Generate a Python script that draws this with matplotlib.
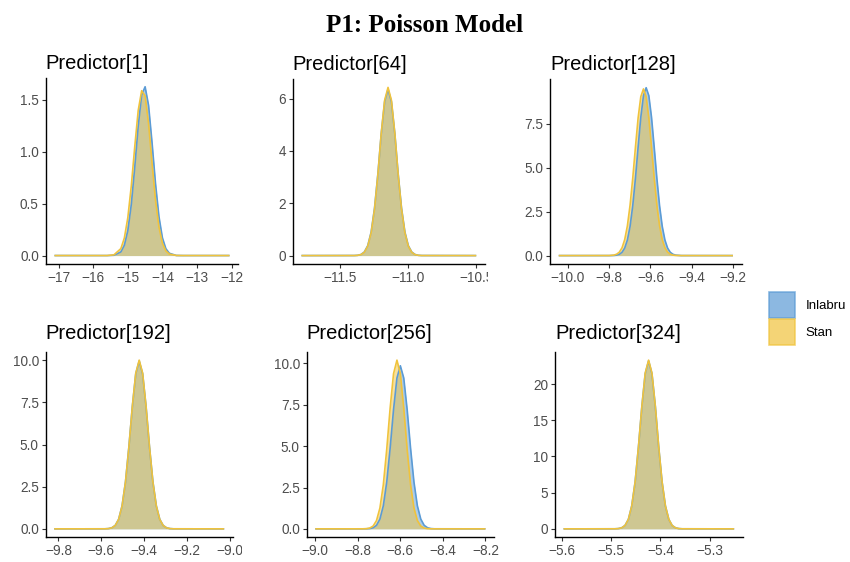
import matplotlib
matplotlib.use("Agg")
import matplotlib.pyplot as plt
from matplotlib.patches import Patch
from matplotlib.transforms import Bbox, TransformedBbox

# posterior densities of the linear predictor, Inlabru vs Stan
titles = ["Predictor[1]", "Predictor[64]", "Predictor[128]",
          "Predictor[192]", "Predictor[256]", "Predictor[324]"]

p1_x = [-17.12, -15.6, -15.4, -15.2, -15.1, -15.0, -14.9, -14.8, -14.7, -14.6, -14.5,
        -14.4, -14.3, -14.2, -14.1, -14.0, -13.9, -13.8, -13.6, -13.4, -12.06]
p1_inlabru = [0.0, 0.0, 0.003, 0.035, 0.099, 0.239, 0.489, 0.847, 1.243, 1.544, 1.623,
              1.444, 1.088, 0.694, 0.375, 0.171, 0.066, 0.022, 0.001, 0.0, 0.0]
p1_stan = [0.0, 0.0, 0.007, 0.067, 0.169, 0.364, 0.668, 1.045, 1.394, 1.585, 1.535,
           1.267, 0.891, 0.534, 0.273, 0.119, 0.044, 0.014, 0.001, 0.0, 0.0]

p2_x = [-11.784, -11.396, -11.371, -11.346, -11.322, -11.297, -11.272, -11.247, -11.222,
        -11.198, -11.173, -11.148, -11.123, -11.098, -11.074, -11.049, -11.024, -10.999,
        -10.974, -10.950, -10.925, -10.900, -10.50]
p2_inlabru = [0.0, 0.003, 0.011, 0.043, 0.137, 0.380, 0.900, 1.820, 3.146, 4.651, 5.882,
              6.360, 5.882, 4.651, 3.146, 1.820, 0.900, 0.380, 0.137, 0.043, 0.011, 0.003, 0.0]
p2_stan = [0.0, 0.002, 0.010, 0.038, 0.127, 0.361, 0.870, 1.788, 3.130, 4.669, 5.936,
           6.430, 5.936, 4.669, 3.130, 1.788, 0.870, 0.361, 0.127, 0.038, 0.010, 0.002, 0.0]

p3_x = [-10.045, -9.800, -9.777, -9.764, -9.751, -9.738, -9.725, -9.712, -9.699, -9.686,
        -9.673, -9.660, -9.647, -9.634, -9.621, -9.608, -9.595, -9.582, -9.569, -9.556,
        -9.543, -9.530, -9.517, -9.504, -9.491, -9.478, -9.450, -9.200]
p3_inlabru = [0.0, 0.001, 0.009, 0.027, 0.075, 0.187, 0.428, 0.887, 1.666, 2.842, 4.399,
              6.177, 7.874, 9.107, 9.560, 9.107, 7.874, 6.177, 4.399, 2.842, 1.666, 0.887,
              0.428, 0.187, 0.075, 0.027, 0.002, 0.0]
p3_stan = [0.0, 0.004, 0.029, 0.080, 0.197, 0.445, 0.912, 1.698, 2.873, 4.417, 6.172,
           7.839, 9.047, 9.490, 9.047, 7.839, 6.172, 4.417, 2.873, 1.698, 0.912, 0.445,
           0.197, 0.080, 0.029, 0.010, 0.001, 0.0]

p4_x = [-9.82, -9.583, -9.567, -9.551, -9.535, -9.519, -9.503, -9.487, -9.471, -9.455,
        -9.439, -9.423, -9.407, -9.391, -9.375, -9.359, -9.343, -9.327, -9.311, -9.295,
        -9.279, -9.263, -9.026]
p4_inlabru = [0.0, 0.003, 0.016, 0.062, 0.203, 0.568, 1.362, 2.788, 4.869, 7.248, 9.196,
              9.950, 9.196, 7.248, 4.869, 2.788, 1.362, 0.568, 0.203, 0.062, 0.016, 0.003, 0.0]
p4_stan = [0.0, 0.003, 0.015, 0.060, 0.198, 0.561, 1.353, 2.780, 4.868, 7.261, 9.231,
           10.000, 9.231, 7.261, 4.868, 2.780, 1.353, 0.561, 0.198, 0.060, 0.015, 0.003, 0.0]

p5_x = [-9.0, -8.776, -8.760, -8.744, -8.728, -8.712, -8.696, -8.680, -8.664, -8.648,
        -8.632, -8.616, -8.600, -8.584, -8.568, -8.552, -8.536, -8.520, -8.504, -8.488,
        -8.472, -8.456, -8.440, -8.2]
p5_inlabru = [0.0, 0.001, 0.004, 0.017, 0.066, 0.213, 0.590, 1.395, 2.821, 4.877, 7.211,
              9.119, 9.860, 9.119, 7.211, 4.877, 2.821, 1.395, 0.590, 0.213, 0.066, 0.017,
              0.004, 0.0]
p5_stan = [0.0, 0.002, 0.011, 0.048, 0.169, 0.502, 1.259, 2.673, 4.803, 7.298, 9.381,
           10.200, 9.381, 7.298, 4.803, 2.673, 1.259, 0.502, 0.169, 0.048, 0.011, 0.002,
           0.0, 0.0]

p6_x = [-5.597, -5.4925, -5.4857, -5.4788, -5.4720, -5.4651, -5.4583, -5.4514, -5.4446,
        -5.4377, -5.4309, -5.4240, -5.4172, -5.4103, -5.4035, -5.3966, -5.3898, -5.3829,
        -5.3761, -5.3692, -5.3624, -5.3555, -5.25]
p6_inlabru = [0.0, 0.009, 0.037, 0.142, 0.466, 1.313, 3.158, 6.473, 11.322, 16.878, 21.437,
              23.200, 21.437, 16.878, 11.322, 6.473, 3.158, 1.313, 0.466, 0.142, 0.037,
              0.009, 0.0]
p6_stan = [0.0, 0.008, 0.036, 0.139, 0.461, 1.307, 3.153, 6.477, 11.342, 16.918, 21.508,
           23.300, 21.508, 16.918, 11.342, 6.477, 3.153, 1.307, 0.461, 0.139, 0.036,
           0.008, 0.0]

xs = [p1_x, p2_x, p3_x, p4_x, p5_x, p6_x]
inlabru = [p1_inlabru, p2_inlabru, p3_inlabru, p4_inlabru, p5_inlabru, p6_inlabru]
stan = [p1_stan, p2_stan, p3_stan, p4_stan, p5_stan, p6_stan]

xticks = [[-17, -16, -15, -14, -13, -12],
          [-11.5, -11.0, -10.5],
          [-10.0, -9.8, -9.6, -9.4, -9.2],
          [-9.8, -9.6, -9.4, -9.2, -9.0],
          [-9.0, -8.8, -8.6, -8.4, -8.2],
          [-5.6, -5.5, -5.4, -5.3]]
yticks = [[0.0, 0.5, 1.0, 1.5],
          [0, 2, 4, 6],
          [0.0, 2.5, 5.0, 7.5],
          [0.0, 2.5, 5.0, 7.5, 10.0],
          [0.0, 2.5, 5.0, 7.5, 10.0],
          [0, 5, 10, 15, 20]]
xfmt = ["{:.0f}", "{:.1f}", "{:.1f}", "{:.1f}", "{:.1f}", "{:.1f}"]
yfmt = ["{:.1f}", "{:.0f}", "{:.1f}", "{:.1f}", "{:.1f}", "{:.0f}"]

col_inlabru = "#5B9BD5"
col_stan = "#F0C33C"
fill_alpha = 0.5

plt.rcParams["font.family"] = ["Liberation Sans", "DejaVu Sans"]

W, H = 850, 562
# panel boxes in pixels: left, right, top, bottom
boxes = [(45.7, 238.3, 78.3, 264), (292.7, 485, 79, 264), (550, 741.7, 79.3, 264),
         (45.7, 232.7, 351.7, 537.3), (306.7, 494, 351.7, 537.3), (555, 742.7, 351.7, 537.3)]
title_pad = [6.5, 6.5, 6.5, 8.8, 8.8, 8.8]
# right edge of the grid cell that clips the x tick labels
clip_right = {1: 488, 3: 241.7}

fig = plt.figure(figsize=(W / 100, H / 100), dpi=100)
fig.text(0.5, 1 - 32 / H, "P1: Poisson Model", ha="center", va="baseline",
         fontsize=18, fontweight="bold", family="Liberation Serif")

axes = []
for i in range(6):
    l, r, t, b = boxes[i]
    ax = fig.add_axes([l / W, 1 - b / H, (r - l) / W, (b - t) / H])
    for y, c in ((inlabru[i], col_inlabru), (stan[i], col_stan)):
        ax.fill_between(xs[i], 0, y, color=c, alpha=fill_alpha, linewidth=0)
        ax.plot(xs[i], y, color=c, linewidth=1.2, solid_capstyle="butt",
                solid_joinstyle="round")
    ax.margins(x=0.05, y=0.05)
    ax.set_xticks(xticks[i])
    ax.set_xticklabels([xfmt[i].format(v).replace("-", "\u2212") for v in xticks[i]])
    ax.set_yticks(yticks[i])
    ax.set_yticklabels([yfmt[i].format(v) for v in yticks[i]])
    ax.tick_params(length=3, width=0.8, color="#333333", labelcolor="#4D4D4D",
                   labelsize=9.8, pad=2)
    for s in ("top", "right"):
        ax.spines[s].set_visible(False)
    for s in ("left", "bottom"):
        ax.spines[s].set_linewidth(1.0)
        ax.spines[s].set_color("black")
    ax.set_title(titles[i], loc="left", fontsize=14.5, pad=title_pad[i])
    axes.append(ax)

handles = [Patch(facecolor=col_inlabru, edgecolor=col_inlabru, alpha=0.7, linewidth=1.2),
           Patch(facecolor=col_stan, edgecolor=col_stan, alpha=0.7, linewidth=1.2)]
fig.legend(handles, ["Inlabru", "Stan"], loc="upper left",
           bbox_to_anchor=(769 / W, 1 - 292 / H), frameon=False, fontsize=9.5,
           handlelength=2.0, handleheight=2.65, labelspacing=0.1, handletextpad=0.75,
           borderpad=0, borderaxespad=0)

fig.canvas.draw()
for i, xr in clip_right.items():
    box = TransformedBbox(Bbox([[0, 0], [xr / W, 1]]), fig.transFigure)
    for lab in axes[i].get_xticklabels():
        lab.set_clip_box(box)
        lab.set_clip_on(True)

fig.savefig("out.png", dpi=100)
